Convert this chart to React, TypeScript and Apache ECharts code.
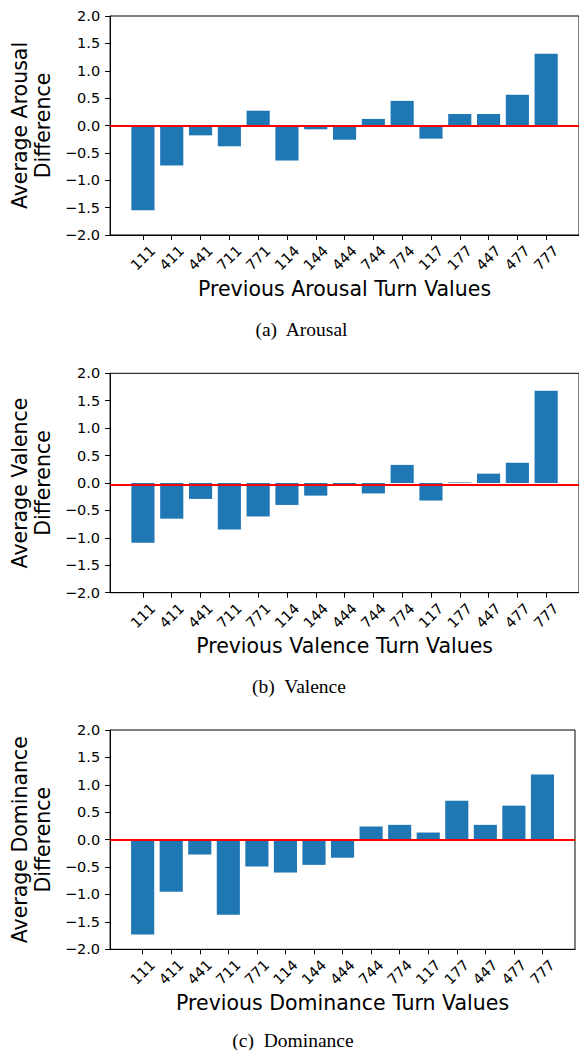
import React, { useEffect, useRef } from "react";
import * as echarts from "echarts";

const categories = ["111", "411", "441", "711", "771", "114", "144", "444", "744", "774", "117", "177", "447", "477", "777"];
const arousal = [-1.55, -0.73, -0.18, -0.38, 0.27, -0.64, -0.07, -0.26, 0.12, 0.45, -0.24, 0.21, 0.21, 0.56, 1.31];
const valence = [-1.09, -0.65, -0.29, -0.85, -0.61, -0.4, -0.23, -0.05, -0.19, 0.33, -0.32, 0.01, 0.17, 0.37, 1.68];
const dominance = [-1.73, -0.95, -0.27, -1.37, -0.49, -0.6, -0.46, -0.33, 0.24, 0.27, 0.13, 0.71, 0.27, 0.62, 1.19];
const refLines = [-0.01, -0.025, 0];
const yLabels = ["Average Arousal\nDifference", "Average Valence\nDifference", "Average Dominance\nDifference"];
const xLabels = ["Previous Arousal Turn Values", "Previous Valence Turn Values", "Previous Dominance Turn Values"];
const captions = ["(a)  Arousal", "(b)  Valence", "(c)  Dominance"];

const SANS = "DejaVu Sans";
const SERIF = "Liberation Serif";

export default function App() {
  const ref = useRef<HTMLDivElement>(null);
  useEffect(() => {
    if (!ref.current) return;
    const chart = echarts.init(ref.current, null, { renderer: "svg" });
    const seriesData = [arousal, valence, dominance];
    const grids = [
      { left: 109.5, top: 16, width: 471, height: 219 },
      { left: 109.5, top: 373.3, width: 471, height: 219.4 },
      { left: 104.5, top: 730, width: 470.5, height: 219.3 },
    ];
    const captionPos = [
      { x: 301.5, y: 329 },
      { x: 299, y: 686.7 },
      { x: 293, y: 1040 },
    ];
    const idx = categories.map((_, k) => k);
    const xMin = -1.14;
    const xMax = categories.length - 1 + 1.14;

    const option: any = {
      animation: false,
      backgroundColor: "#fff",
      grid: grids.map((g) => ({
        ...g,
        show: true,
        borderColor: "#000",
        borderWidth: 1,
        backgroundColor: "transparent",
        containLabel: false,
      })),
      xAxis: grids.map((_, i) => ({
        type: "value",
        gridIndex: i,
        min: xMin,
        max: xMax,
        axisLine: { show: true, onZero: false, lineStyle: { color: "#000", width: 1 } },
        axisTick: { show: true, customValues: idx, length: 5, lineStyle: { color: "#000", width: 1 } },
        axisLabel: {
          customValues: idx,
          formatter: (v: number) => categories[Math.round(v)] ?? "",
          rotate: 45,
          align: "center",
          verticalAlign: "middle",
          margin: 23,
          fontFamily: SANS,
          fontSize: 14.5,
          color: "#000",
        },
        splitLine: { show: false },
        name: xLabels[i],
        nameLocation: "middle",
        nameGap: 43,
        nameTextStyle: { fontFamily: SANS, fontSize: 20.5, color: "#000" },
      })),
      yAxis: grids.map((_, i) => ({
        type: "value",
        gridIndex: i,
        min: -2,
        max: 2,
        interval: 0.5,
        axisLine: { show: true, onZero: false, lineStyle: { color: "#000", width: 1 } },
        axisTick: { show: true, length: 5, lineStyle: { color: "#000", width: 1 } },
        axisLabel: {
          formatter: (v: number) => (v < 0 ? "\u2212" : "") + Math.abs(v).toFixed(1),
          fontFamily: SANS,
          fontSize: 14.5,
          color: "#000",
          margin: 10,
        },
        splitLine: { show: false },
        name: yLabels[i],
        nameLocation: "middle",
        nameRotate: 90,
        nameGap: 52,
        nameTextStyle: { fontFamily: SANS, fontSize: 20.5, lineHeight: 23, color: "#000" },
      })),
      series: seriesData.map((vals, i) => ({
        type: "bar",
        xAxisIndex: i,
        yAxisIndex: i,
        data: vals.map((v, k) => [k, v]),
        barWidth: (0.8 * grids[i].width) / (xMax - xMin),
        itemStyle: { color: "#1f77b4" },
        markLine: {
          silent: true,
          symbol: ["none", "none"],
          label: { show: false },
          lineStyle: { color: "#ff0000", width: 2, type: "solid" },
          data: [{ yAxis: refLines[i] }],
        },
      })),
      graphic: captions.map((c, i) => ({
        type: "text",
        x: captionPos[i].x,
        y: captionPos[i].y,
        style: {
          text: c,
          fontFamily: SERIF,
          fontSize: 19.5,
          fill: "#000",
          align: "center",
          verticalAlign: "middle",
        },
      })),
    };
    chart.setOption(option);
    return () => chart.dispose();
  }, []);
  return (
    <div
      ref={ref}
      style={{ position: "absolute", left: 0, top: 0, width: 579, height: 1050 }}
    />
  );
}
